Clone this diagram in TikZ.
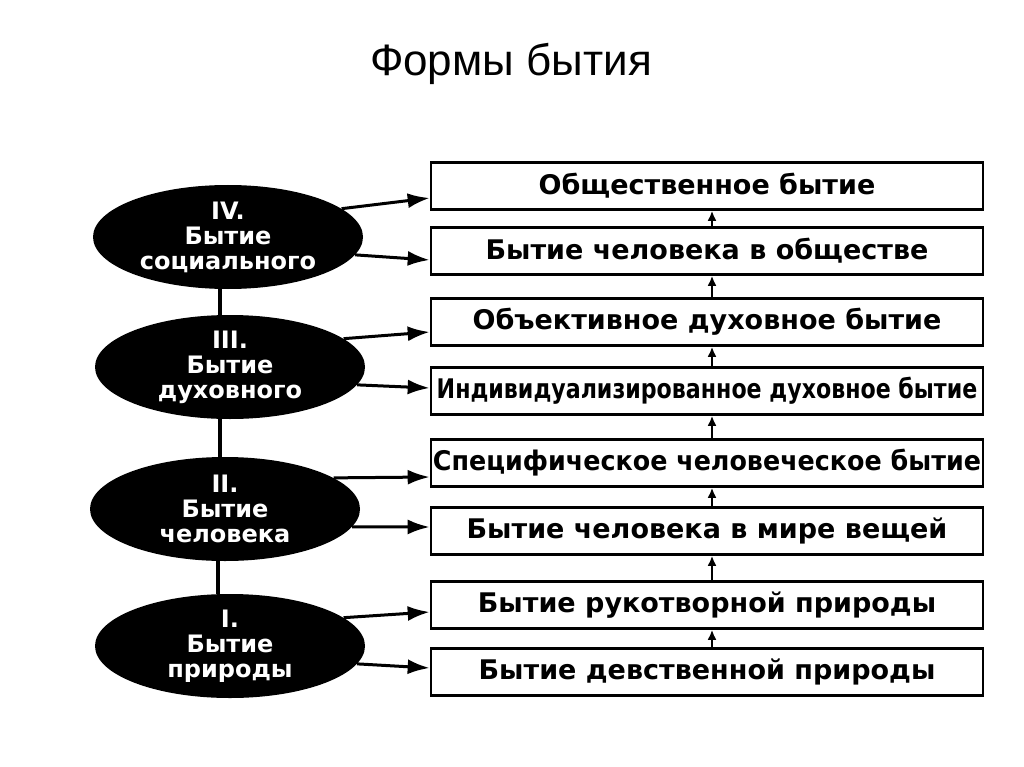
\documentclass[tikz,border=0pt]{standalone}
\usepackage{fontspec}
\setmainfont{Liberation Sans}
\setsansfont{Liberation Sans}
\newfontfamily\boldgrot{DejaVu Sans}
\usetikzlibrary{arrows.meta,positioning,shapes.geometric}

\begin{document}
\begin{tikzpicture}[x=1pt, y=-1pt,
  font=\sffamily,
  level/.style={ellipse, fill=black, text=white, inner sep=0pt,
    minimum width=270pt, minimum height=104pt, align=center,
    font=\boldgrot\bfseries\fontsize{24}{25}\selectfont},
  form/.style={draw=black, line width=2.6pt, fill=white,
    minimum width=552pt, minimum height=47pt, inner sep=0pt,
    font=\boldgrot\bfseries\fontsize{27}{30}\selectfont},
  arr/.style={-{Latex[length=22pt, width=15pt]}, line width=3pt},
  uparr/.style={-{Latex[length=10pt, width=9pt]}, line width=2.8pt},
  link/.style={line width=4pt}
]
  \useasboundingbox (0,0) rectangle (1024,767);

  % title
  \node[font=\fontsize{44}{48}\selectfont] (title) at (511,64) {Формы бытия};

  % levels
  \node[level] (IV)  at (228,237) {IV.\\Бытие\\социального};
  \node[level] (III) at (230,367) {III.\\Бытие\\духовного};
  \node[level] (II)  at (225,509) {II.\\Бытие\\человека};
  \node[level] (I)   at (230,646) {I.\\Бытие\\природы};

  \draw[link] (IV.south -| 220,0) -- (III.north -| 220,0);
  \draw[link] (III.south -| 220,0) -- (II.north -| 220,0);
  \draw[link] (II.south -| 218,0) -- (I.north -| 218,0);

  % forms
  \node[form] (b1) at (707,186) {Общественное бытие};
  \node[form] (b2) at (707,251) {Бытие человека в обществе};
  \node[form] (b3) at (707,322) {Объективное духовное бытие};
  \node[form] (b4) at (707,391) {\scalebox{0.82}[1]{Индивидуализированное духовное бытие}};
  \node[form] (b5) at (707,463) {\scalebox{0.94}[1]{Специфическое человеческое бытие}};
  \node[form] (b6) at (707,531) {Бытие человека в мире вещей};
  \node[form] (b7) at (707,605) {Бытие рукотворной природы};
  \node[form] (b8) at (707,672) {Бытие девственной природы};

  \foreach \lo/\hi in {b2/b1, b3/b2, b4/b3, b5/b4, b6/b5, b7/b6, b8/b7}
    \draw[uparr] ([xshift=5pt]\lo.north) -- ([xshift=5pt]\hi.south);

  % level -> forms
  \draw[arr] (IV.14)  -- ([yshift=-12pt]b1.west);
  \draw[arr] (IV.-8)  -- ([yshift=-9pt]b2.west);
  \draw[arr] (III.14) -- ([yshift=-10pt]b3.west);
  \draw[arr] (III.-8) -- ([yshift=3pt]b4.west);
  \draw[arr] (II.16)  -- ([yshift=-14pt]b5.west);
  \draw[arr] (II.-8)  -- ([yshift=4pt]b6.west);
  \draw[arr] (I.14)   -- ([yshift=-7pt]b7.west);
  \draw[arr] (I.-8)   -- ([yshift=4pt]b8.west);
\end{tikzpicture}
\end{document}
